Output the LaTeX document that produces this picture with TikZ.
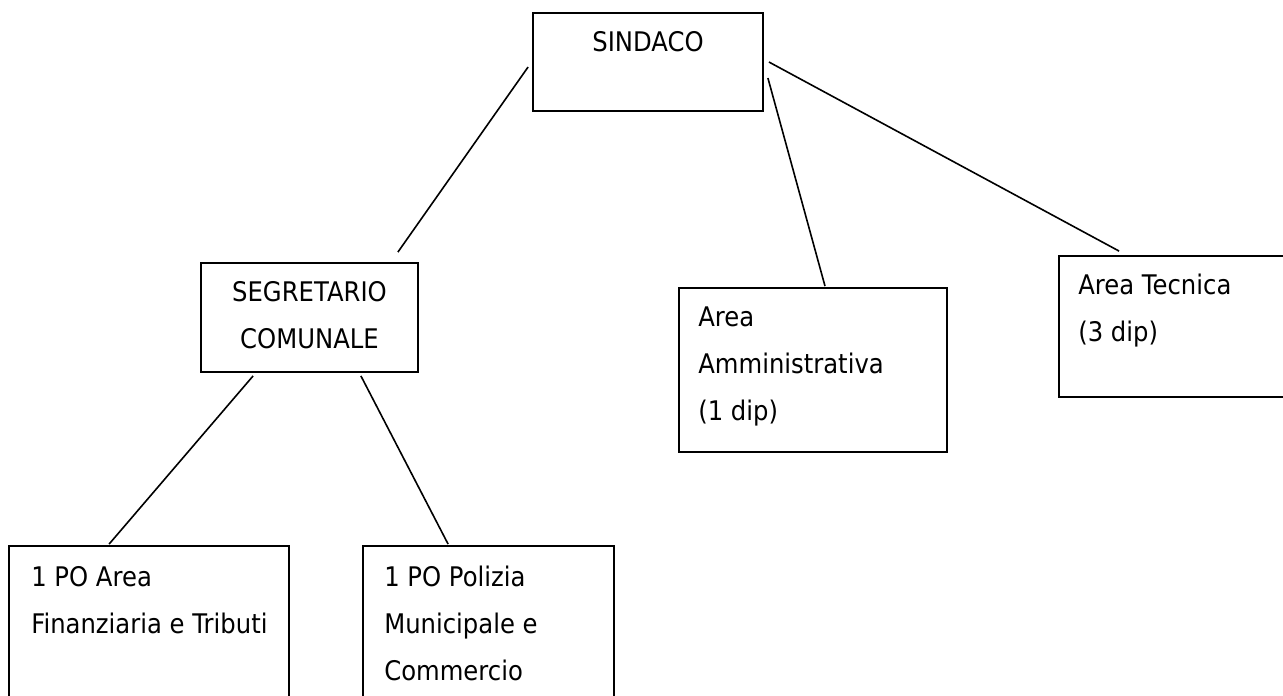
\documentclass[tikz,border=0pt]{standalone}
\usepackage{fontspec}
\setmainfont{DejaVu Sans}[FakeStretch=0.9]
\begin{document}
\begin{tikzpicture}[x=1pt,y=-1pt,
  box/.style={draw, line width=1.8pt, inner sep=0pt},
  txt/.style={inner sep=0pt, font=\fontsize{27}{47}\selectfont},
  link/.style={line width=1.6pt}]
\useasboundingbox (0,0) rectangle (1283,696);
\node[box, minimum width=230pt, minimum height=98pt] (sindaco) at (648,62) {};
\node[txt, anchor=north] (sindacoT) at ([shift={(0,19)}]sindaco.north) {SINDACO};
\node[box, minimum width=217pt, minimum height=109pt] (segretario) at (309.5,317.5) {};
\node[txt, anchor=north, align=center] (segretarioT) at ([shift={(0,19)}]segretario.north) {SEGRETARIO\\COMUNALE};
\node[box, minimum width=268pt, minimum height=164pt] (amministrativa) at (813,370) {};
\node[txt, anchor=north west, align=left] (amministrativaT) at ([shift={(20,20)}]amministrativa.north west) {Area\\Amministrativa\\(1 dip)};
\node[box, minimum width=241pt, minimum height=141pt] (tecnica) at (1179.5,326.5) {};
\node[txt, anchor=north west, align=left] (tecnicaT) at ([shift={(20,19)}]tecnica.north west) {Area Tecnica\\(3 dip)};
\node[box, minimum width=280pt, minimum height=164pt] (finanziaria) at (149,628) {};
\node[txt, anchor=north west, align=left] (finanziariaT) at ([shift={(23,21)}]finanziaria.north west) {1 PO Area\\Finanziaria e Tributi};
\node[box, minimum width=251pt, minimum height=164pt] (polizia) at (488.5,628) {};
\node[txt, anchor=north west, align=left] (poliziaT) at ([shift={(22,21)}]polizia.north west) {1 PO Polizia\\Municipale e\\Commercio};
\draw[link] ([shift={(-4,5)}]sindaco.west) -- ([shift={(-21,-10)}]segretario.north east);
\draw[link] ([shift={(4,16)}]sindaco.east) -- ([shift={(12,-1)}]amministrativa.north);
\draw[link] ([shift={(5,0)}]sindaco.east) -- ([shift={(61,-4)}]tecnica.north west);
\draw[link] ([shift={(53,3)}]segretario.south west) -- ([shift={(101,-1)}]finanziaria.north west);
\draw[link] ([shift={(-58,3)}]segretario.south east) -- ([shift={(86,-1)}]polizia.north west);
\end{tikzpicture}
\end{document}
